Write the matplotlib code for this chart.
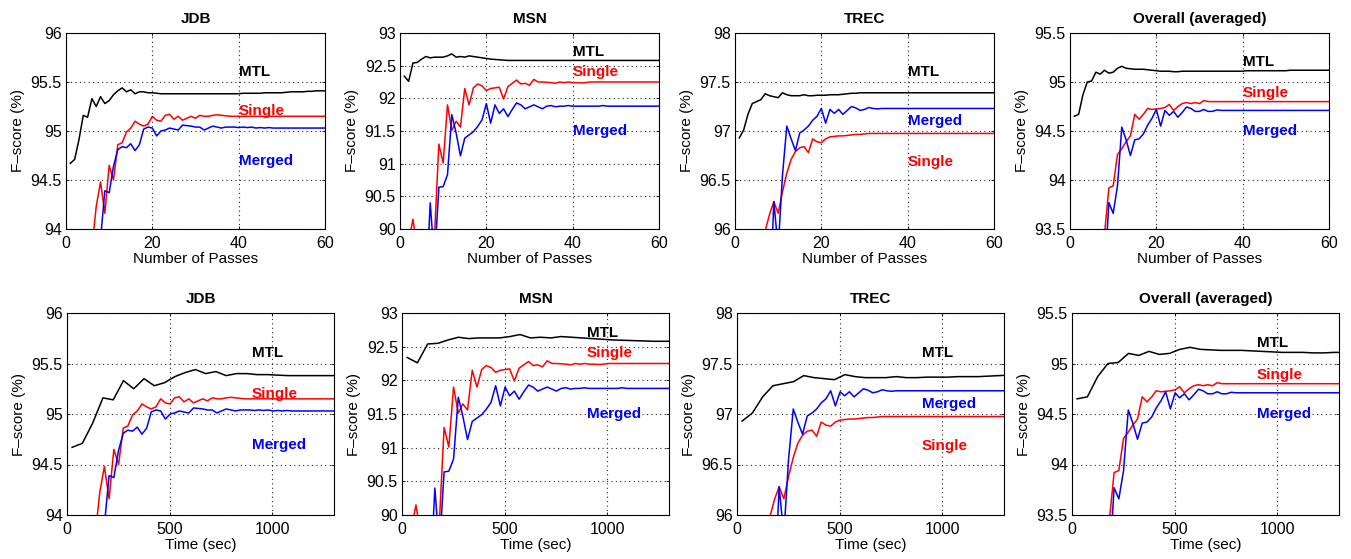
import matplotlib
matplotlib.use("Agg")
import matplotlib.pyplot as plt
from matplotlib.ticker import FuncFormatter

plt.rcParams["font.family"] = ["Liberation Sans", "DejaVu Sans"]

# pass index (top row x-axis)
passes = list(range(1, 61))

# elapsed seconds at the end of each pass (bottom row x-axis)
time_mtl = [25, 75, 125, 175, 225, 275, 325, 375, 425, 475, 525, 575, 625, 675,
            725, 775, 825, 875, 925, 975, 1025, 1075, 1125, 1175, 1225, 1275, 1325]
time_base = [23, 46, 68, 91, 114, 137, 160, 182, 205, 228, 251, 274, 296, 319, 342,
             365, 388, 410, 433, 456, 479, 502, 524, 547, 570, 593, 616, 638, 661, 684,
             707, 730, 752, 775, 798, 821, 844, 866, 889, 912, 935, 958, 980, 1003, 1026,
             1049, 1072, 1094, 1117, 1140, 1163, 1186, 1208, 1231, 1254, 1277, 1300, 1322,
             1345, 1368]

# F-score (%) per pass
jdb_mtl = [94.67, 94.71, 94.91, 95.16, 95.14, 95.33, 95.25, 95.35, 95.28, 95.31,
           95.37, 95.41, 95.44, 95.40, 95.42, 95.38, 95.40, 95.40, 95.39, 95.39,
           95.385, 95.38, 95.38, 95.38, 95.38, 95.38, 95.38, 95.38, 95.38, 95.38,
           95.38, 95.38, 95.38, 95.38, 95.38, 95.38, 95.38, 95.38, 95.38, 95.38,
           95.385, 95.385, 95.385, 95.385, 95.385, 95.39, 95.39, 95.39, 95.39, 95.39,
           95.395, 95.40, 95.40, 95.40, 95.40, 95.405, 95.405, 95.41, 95.41, 95.41]
jdb_single = [92.0, 92.5, 92.9, 93.2, 93.5, 93.8, 94.23, 94.48, 94.16, 94.65,
              94.50, 94.86, 94.88, 94.99, 95.03, 95.10, 95.07, 95.05, 95.07, 95.15,
              95.11, 95.10, 95.16, 95.17, 95.12, 95.15, 95.11, 95.13, 95.15, 95.13,
              95.16, 95.15, 95.15, 95.16, 95.165, 95.16, 95.155, 95.15, 95.15, 95.15,
              95.15, 95.15, 95.15, 95.15, 95.15, 95.15, 95.15, 95.15, 95.15, 95.15,
              95.15, 95.15, 95.15, 95.15, 95.15, 95.15, 95.15, 95.15, 95.15, 95.15]
jdb_merged = [92.0, 92.3, 92.6, 92.9, 93.1, 93.3, 93.5, 93.9, 94.39, 94.37,
              94.64, 94.81, 94.84, 94.83, 94.87, 94.80, 94.86, 95.02, 95.04, 95.03,
              94.95, 95.00, 95.01, 95.03, 95.02, 95.01, 95.06, 95.055, 95.05, 95.04,
              95.04, 95.01, 95.03, 95.05, 95.04, 95.03, 95.04, 95.04, 95.04, 95.035,
              95.04, 95.035, 95.04, 95.03, 95.035, 95.03, 95.035, 95.03, 95.03, 95.03,
              95.03, 95.03, 95.03, 95.03, 95.03, 95.03, 95.03, 95.03, 95.03, 95.03]

msn_mtl = [92.34, 92.26, 92.54, 92.55, 92.60, 92.64, 92.62, 92.63, 92.63, 92.63,
           92.65, 92.68, 92.63, 92.64, 92.63, 92.65, 92.64, 92.63, 92.62, 92.61,
           92.60, 92.595, 92.59, 92.585, 92.58, 92.58, 92.58, 92.58, 92.58, 92.58,
           92.58, 92.58, 92.58, 92.58, 92.58, 92.58, 92.58, 92.58, 92.58, 92.58,
           92.58, 92.58, 92.58, 92.58, 92.58, 92.58, 92.58, 92.58, 92.58, 92.58,
           92.58, 92.58, 92.58, 92.58, 92.58, 92.58, 92.58, 92.58, 92.58, 92.58]
msn_single = [89.5, 89.8, 90.15, 89.7, 89.5, 89.6, 89.7, 89.9, 91.30, 91.01,
              91.90, 91.51, 91.65, 91.56, 92.15, 91.90, 92.16, 92.22, 92.19, 92.12,
              92.15, 92.16, 92.17, 91.99, 92.18, 92.23, 92.28, 92.22, 92.23, 92.20,
              92.29, 92.25, 92.25, 92.245, 92.24, 92.23, 92.25, 92.24, 92.25, 92.24,
              92.24, 92.235, 92.24, 92.25, 92.25, 92.25, 92.25, 92.25, 92.25, 92.25,
              92.25, 92.25, 92.25, 92.25, 92.25, 92.25, 92.25, 92.25, 92.25, 92.25]
msn_merged = [88.5, 88.7, 88.8, 88.9, 89.0, 89.0, 90.40, 89.5, 90.64, 90.65,
              90.83, 91.75, 91.47, 91.12, 91.39, 91.44, 91.49, 91.57, 91.67, 91.92,
              91.62, 91.90, 91.77, 91.84, 91.72, 91.83, 91.93, 91.90, 91.84, 91.87,
              91.90, 91.87, 91.84, 91.88, 91.89, 91.87, 91.88, 91.88, 91.89, 91.88,
              91.88, 91.88, 91.88, 91.88, 91.88, 91.88, 91.89, 91.88, 91.88, 91.88,
              91.88, 91.88, 91.88, 91.88, 91.88, 91.88, 91.88, 91.88, 91.88, 91.88]

trec_mtl = [96.93, 97.01, 97.17, 97.28, 97.30, 97.32, 97.38, 97.36, 97.35, 97.34,
            97.39, 97.37, 97.36, 97.36, 97.36, 97.37, 97.36, 97.36, 97.365, 97.365,
            97.365, 97.37, 97.37, 97.37, 97.375, 97.38, 97.385, 97.385, 97.39, 97.39,
            97.39, 97.39, 97.39, 97.39, 97.39, 97.39, 97.39, 97.39, 97.39, 97.39,
            97.39, 97.39, 97.39, 97.39, 97.39, 97.39, 97.39, 97.39, 97.39, 97.39,
            97.39, 97.39, 97.39, 97.39, 97.39, 97.39, 97.39, 97.39, 97.39, 97.39]
trec_single = [94.5, 94.8, 95.0, 95.2, 95.45, 95.7, 95.98, 96.15, 96.28, 96.16,
               96.38, 96.57, 96.71, 96.79, 96.83, 96.84, 96.78, 96.92, 96.89, 96.88,
               96.92, 96.94, 96.945, 96.95, 96.95, 96.955, 96.96, 96.965, 96.965, 96.97,
               96.975, 96.975, 96.975, 96.975, 96.975, 96.975, 96.975, 96.975, 96.975, 96.975,
               96.975, 96.975, 96.975, 96.975, 96.975, 96.975, 96.975, 96.975, 96.975, 96.975,
               96.975, 96.975, 96.975, 96.975, 96.975, 96.975, 96.975, 96.975, 96.975, 96.975]
trec_merged = [94.0, 94.1, 94.2, 94.4, 94.5, 94.6, 94.8, 95.2, 96.28, 95.8,
               96.55, 97.05, 96.92, 96.80, 96.98, 97.01, 97.05, 97.11, 97.15, 97.23,
               97.08, 97.22, 97.18, 97.22, 97.17, 97.21, 97.25, 97.235, 97.21, 97.22,
               97.24, 97.23, 97.225, 97.23, 97.23, 97.23, 97.23, 97.23, 97.23, 97.23,
               97.23, 97.23, 97.23, 97.23, 97.23, 97.23, 97.23, 97.23, 97.23, 97.23,
               97.23, 97.23, 97.23, 97.23, 97.23, 97.23, 97.23, 97.23, 97.23, 97.23]

avg_mtl = [94.65, 94.67, 94.87, 95.00, 95.01, 95.10, 95.08, 95.12, 95.09, 95.10,
           95.14, 95.16, 95.14, 95.135, 95.13, 95.13, 95.13, 95.125, 95.12, 95.115,
           95.11, 95.11, 95.11, 95.105, 95.105, 95.11, 95.11, 95.11, 95.11, 95.11,
           95.11, 95.11, 95.11, 95.11, 95.11, 95.11, 95.11, 95.11, 95.11, 95.11,
           95.115, 95.115, 95.115, 95.115, 95.115, 95.115, 95.115, 95.115, 95.115, 95.115,
           95.12, 95.12, 95.12, 95.12, 95.12, 95.12, 95.12, 95.12, 95.12, 95.12]
avg_single = [92.0, 92.3, 92.5, 92.7, 92.9, 93.1, 93.2, 93.45, 93.92, 93.94,
              94.26, 94.32, 94.39, 94.45, 94.67, 94.62, 94.67, 94.73, 94.72, 94.725,
              94.73, 94.74, 94.77, 94.71, 94.75, 94.78, 94.79, 94.78, 94.79, 94.78,
              94.81, 94.80, 94.80, 94.80, 94.80, 94.80, 94.80, 94.80, 94.80, 94.80,
              94.80, 94.80, 94.80, 94.80, 94.80, 94.80, 94.80, 94.80, 94.80, 94.80,
              94.80, 94.80, 94.80, 94.80, 94.80, 94.80, 94.80, 94.80, 94.80, 94.80]
avg_merged = [92.0, 92.2, 92.3, 92.4, 92.5, 92.6, 92.8, 93.0, 93.77, 93.66,
              93.94, 94.54, 94.41, 94.25, 94.41, 94.42, 94.47, 94.56, 94.63, 94.72,
              94.55, 94.71, 94.66, 94.70, 94.64, 94.69, 94.745, 94.73, 94.70, 94.70,
              94.72, 94.70, 94.70, 94.715, 94.71, 94.71, 94.71, 94.71, 94.71, 94.71,
              94.71, 94.71, 94.71, 94.71, 94.71, 94.71, 94.71, 94.71, 94.71, 94.71,
              94.71, 94.71, 94.71, 94.71, 94.71, 94.71, 94.71, 94.71, 94.71, 94.71]

titles = ["JDB", "MSN", "TREC", "Overall (averaged)"]
mtl_series = [jdb_mtl, msn_mtl, trec_mtl, avg_mtl]
single_series = [jdb_single, msn_single, trec_single, avg_single]
merged_series = [jdb_merged, msn_merged, trec_merged, avg_merged]

# in-plot label heights
mtl_label_y = [95.60, 92.71, 97.60, 95.20]
single_label_y = [95.20, 92.40, 96.68, 94.89]
merged_label_y = [94.69, 91.50, 97.10, 94.50]

ylims = [(94, 96), (90, 93), (96, 98), (93.5, 95.5)]

W, H = 1351, 559
fig = plt.figure(figsize=(W / 100, H / 100), dpi=100)

top_left = [66, 400, 735, 1070]
bot_left = [67, 402, 737, 1072]
fmt = FuncFormatter(lambda v, p: f"{v:g}")


def style(ax, ylim):
    ax.set_ylim(*ylim)
    ax.set_yticks([ylim[0] + 0.5 * k for k in range(int((ylim[1] - ylim[0]) / 0.5) + 1)])
    ax.yaxis.set_major_formatter(fmt)
    ax.grid(True, color="0.15", linestyle=(0, (1, 3)), linewidth=0.8)
    ax.tick_params(direction="in", length=2, width=0.6, labelsize=11.5,
                   top=True, right=True)
    ax.tick_params(axis="x", pad=5)
    ax.tick_params(axis="y", pad=3)
    for s in ax.spines.values():
        s.set_linewidth(0.8)
    ax.set_ylabel("F–score (%)", fontsize=11, labelpad=4)


for i in range(4):
    # top row: by pass
    ax = fig.add_axes([top_left[i] / W, 1 - 229 / H, 259 / W, 196 / H])
    ax.plot(passes, mtl_series[i], color="k", lw=1.1)
    ax.plot(passes, single_series[i], color="r", lw=1.1)
    ax.plot(passes, merged_series[i], color="b", lw=1.1)
    ax.set_xlim(0, 60)
    ax.set_xticks([0, 20, 40, 60])
    style(ax, ylims[i])
    ax.set_xlabel("Number of Passes", fontsize=11, labelpad=1)
    ax.set_title(titles[i], fontsize=11, fontweight="bold", pad=7)
    for txt, y, c in [("MTL", mtl_label_y[i], "k"), ("Single", single_label_y[i], "r"),
                      ("Merged", merged_label_y[i], "b")]:
        ax.text(40, y, txt, color=c, fontsize=11, fontweight="bold",
                ha="left", va="center")

    # bottom row: by wall-clock time
    ax = fig.add_axes([bot_left[i] / W, 1 - 515 / H, 267 / W, 202 / H])
    ax.plot(time_mtl, mtl_series[i][:len(time_mtl)], color="k", lw=1.1)
    ax.plot(time_base, single_series[i], color="r", lw=1.1)
    ax.plot(time_base, merged_series[i], color="b", lw=1.1)
    ax.set_xlim(0, 1300)
    ax.set_xticks([0, 500, 1000])
    style(ax, ylims[i])
    ax.set_xlabel("Time (sec)", fontsize=11, labelpad=1)
    ax.set_title(titles[i], fontsize=11, fontweight="bold", pad=7)
    for txt, y, c in [("MTL", mtl_label_y[i], "k"), ("Single", single_label_y[i], "r"),
                      ("Merged", merged_label_y[i], "b")]:
        ax.text(900, y, txt, color=c, fontsize=11, fontweight="bold",
                ha="left", va="center")

fig.savefig("out.png", dpi=100)
